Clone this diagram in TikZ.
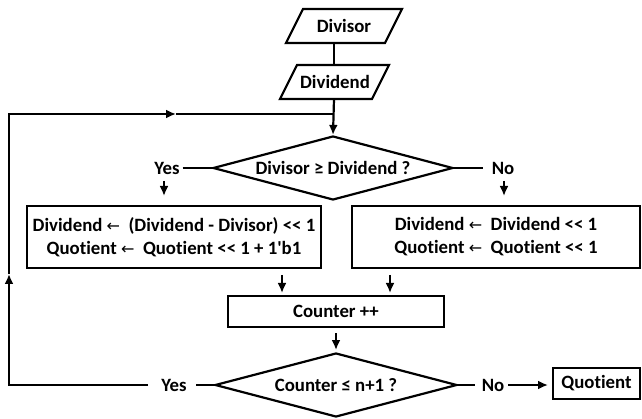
\documentclass[tikz,border=0pt]{standalone}
\usepackage{fontspec}
\setmainfont{Carlito}[Ligatures={TeXOff,NoCommon}]
\newfontfamily\symf{DejaVu Sans}
\usetikzlibrary{arrows.meta,shapes.geometric}
\newcommand{\larr}{{\symf\mdseries\fontsize{16}{16}\selectfont ←}}
\begin{document}
\begin{tikzpicture}[x=1pt,y=-1pt,line width=2.2pt,
  font=\fontsize{18.8}{23}\selectfont\bfseries,
  arr/.style={-{Latex[length=10pt,width=9pt]}},
  boxn/.style={draw,rectangle,inner sep=0pt,align=center},
  dec/.style={draw,diamond,inner sep=0pt,shape aspect=3.75},
  lbl/.style={inner sep=0pt}]
\useasboundingbox (0,0) rectangle (642,419);

% input parallelograms
\coordinate (dvsTL) at (303,9);  \coordinate (dvsTR) at (402,9);
\coordinate (dvsBR) at (385,43); \coordinate (dvsBL) at (286,43);
\draw (dvsTL) -- (dvsTR) -- (dvsBR) -- (dvsBL) -- cycle;
\node[lbl] (divisor) at (344,26) {Divisor};

\coordinate (dvdTL) at (297,65);  \coordinate (dvdTR) at (389,65);
\coordinate (dvdBR) at (372,99); \coordinate (dvdBL) at (280,99);
\draw (dvdTL) -- (dvdTR) -- (dvdBR) -- (dvdBL) -- cycle;
\node[lbl] (dividend) at (335,82) {Dividend};

\coordinate (l1a) at (334,43);
\coordinate (l1b) at (334,65);
\coordinate (l2a) at (334,99);
\coordinate (join) at (334,114);
\draw (l1a) -- (l1b);

% decision 1
\node[dec,minimum width=240pt,minimum height=64pt] (d1) at (333,168) {Divisor ≥ Dividend ?};
\draw[arr] (l2a) -- (d1.north);

\node[lbl] (yes1) at (167,168) {Yes};
\node[lbl] (no1) at (503,168) {No};
\draw (yes1.east) ++(2,0) coordinate (y1e) -- (d1.west);
\draw (d1.east) -- ([xshift=-8pt]no1.west) coordinate (n1w);

\coordinate (ya) at (164,181); \coordinate (yb) at (164,196);
\coordinate (na) at (504,181); \coordinate (nb) at (504,196);
\draw[arr] (ya) -- (yb);
\draw[arr] (na) -- (nb);

% boxes
\node[boxn,minimum width=294pt,minimum height=62pt] (lbox) at (174,237)
  {Dividend \larr\ \ (Dividend - Divisor) << 1\\Quotient \larr\ \ Quotient << 1 + 1\textquotesingle b1};
\node[boxn,minimum width=288pt,minimum height=62pt] (rbox) at (496,237)
  {Dividend \larr\ \ Dividend << 1\\Quotient \larr\ \ Quotient << 1};

\node[boxn,minimum width=216pt,minimum height=31pt] (cnt) at (336,311.5) {Counter ++};
\coordinate (ca) at (282,275); \coordinate (cb) at (282,293);
\coordinate (cc) at (390,275); \coordinate (cd) at (390,293);
\draw[arr] (ca) -- (cb);
\draw[arr] (cc) -- (cd);

% decision 2
\node[dec,minimum width=242pt,minimum height=64pt] (d2) at (336,385) {Counter ≤ n+1 ?};
\coordinate (cnta) at (336,333); \coordinate (cntb) at (336,350);
\draw[arr] (cnta) -- (cntb);

\node[lbl] (yes2) at (174,385) {Yes};
\node[lbl] (no2) at (493,385) {No};
\node[boxn,minimum width=87pt,minimum height=31pt] (quot) at (596.5,383.5) {Quotient};

\coordinate (lp0) at (148,385);
\coordinate (lp1) at (9,385);
\coordinate (lp2) at (9,274);
\coordinate (lp3) at (9,114);
\coordinate (lp4) at (176,114);
\draw (d2.west) -- (196,385) coordinate (y2e);
\draw (d2.east) -- (475,385) coordinate (n2w);
\coordinate (qa) at (508,385);
\coordinate (qb) at (548,385);
\draw[arr] (qa) -- (qb);

\draw[arr] (lp0) -- (lp1) -- (lp2);
\draw[arr] (lp2) -- (lp3) -- (lp4);
\draw (lp4) -- (join);
\end{tikzpicture}
\end{document}
